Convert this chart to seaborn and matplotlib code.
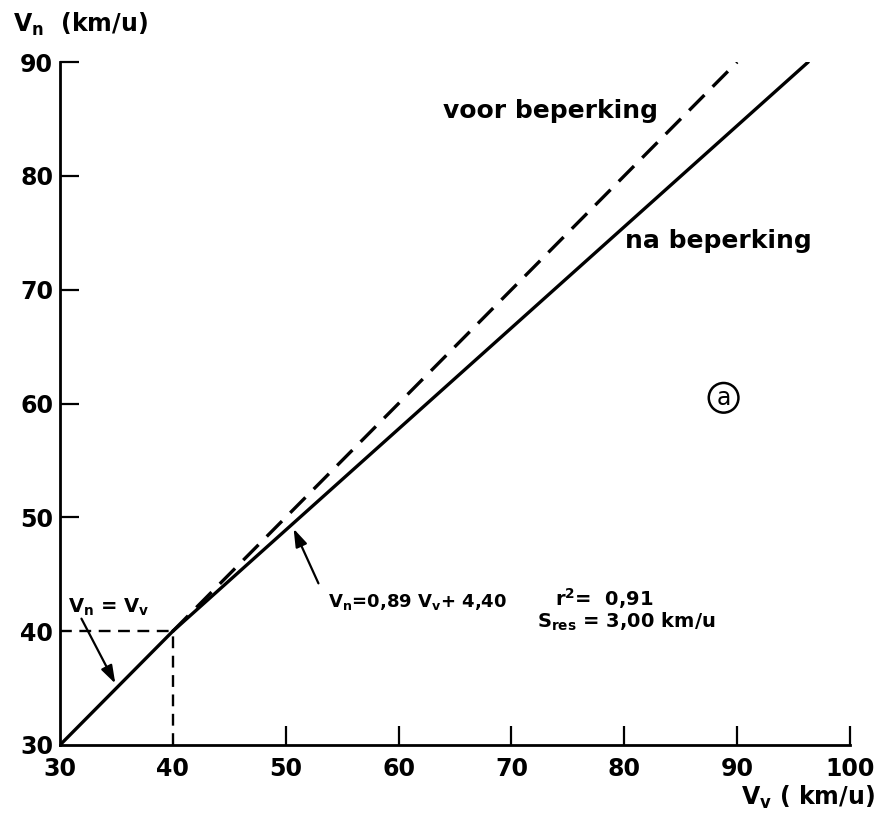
import matplotlib
matplotlib.use("Agg")
import matplotlib.pyplot as plt
import seaborn as sns

# --- data ---
x_identity = [30, 40]          # V_n = V_v segment (solid)
y_identity = [30, 40]
x_after = [40, 96.3]           # "na beperking" regression line (solid)
y_after = [40, 90]
x_before = [40, 90]            # "voor beperking" (dashed)
y_before = [40, 90]
x_guide_h = [30, 40]           # dashed guide at V_n = 40
y_guide_h = [40, 40]
x_guide_v = [40, 40]           # dashed guide at V_v = 40
y_guide_v = [30, 40]
x_ticks = [30, 40, 50, 60, 70, 80, 90, 100]
y_ticks = [30, 40, 50, 60, 70, 80, 90]

sns.set_theme(style="white")
plt.rcParams['font.family'] = ['DejaVu Sans']
plt.rcParams['text.color'] = 'black'
plt.rcParams['mathtext.default'] = 'regular'

fig = plt.figure(figsize=(8.8, 8.16), dpi=100)
ax = fig.add_axes([60/880, 71/816, 790/880, 683/816])

lw = 2.4
common = dict(ax=ax, color="black", estimator=None, sort=False)
sns.lineplot(x=x_identity, y=y_identity, lw=lw, solid_capstyle="round", **common)
sns.lineplot(x=x_after, y=y_after, lw=lw, solid_capstyle="round", **common)
sns.lineplot(x=x_before, y=y_before, lw=lw, linestyle=(0, (6.5, 3.5)), **common)
sns.lineplot(x=x_guide_h, y=y_guide_h, lw=1.7, linestyle=(0, (5, 3.2)), **common)
sns.lineplot(x=x_guide_v, y=y_guide_v, lw=1.7, linestyle=(0, (5, 3.2)), orient="y", **common)

ax.set_xlim(30, 100)
ax.set_ylim(30, 90)
ax.set_xticks(x_ticks)
ax.set_yticks(y_ticks)
ax.set_xticklabels([str(v) for v in x_ticks], fontweight="bold")
ax.set_yticklabels([str(v) for v in y_ticks], fontweight="bold")
for s in ["top", "right"]:
    ax.spines[s].set_visible(False)
for s in ["left", "bottom"]:
    ax.spines[s].set_color("black")
    ax.spines[s].set_linewidth(2.0)
ax.tick_params(axis="both", direction="in", length=14, width=1.6, colors="black",
               labelsize=17, pad=5, bottom=True, left=True)
ax.tick_params(axis="x", pad=9)
ax.set_xlabel("")
ax.set_ylabel("")
# no tick marks at 30 and 40 (corner and dashed guides there)
for t in ax.xaxis.get_major_ticks()[:2] + ax.yaxis.get_major_ticks()[:2]:
    t.tick1line.set_visible(False)

tk = dict(fontsize=17, color="black", fontweight="bold")
fig.text(13/880, 1 - 24/816, "V$_n$  (km/u)", ha="left", va="center", **tk)
fig.text(875/880, 1 - 797/816, "V$_v$ ( km/u)", ha="right", va="center", **tk)

bt = dict(color="black", fontweight="bold", ha="left", va="center")
ax.text(63.9, 85.7, "voor beperking", fontsize=18, **bt)
ax.text(80.1, 74.3, "na beperking", fontsize=18, **bt)

# circled "a"
ax.text(88.8, 60.5, "a", ha="center", va="center", fontsize=17, color="black",
        bbox=dict(boxstyle="circle,pad=0.12", fc="none", ec="black", lw=1.8))

ax.text(53.75, 42.6, "V$_n$=0,89 V$_v$+ 4,40", fontsize=13, **bt)
ax.text(73.9, 42.9, "r$^2$=  0,91", fontsize=14, **bt)
ax.text(72.3, 40.8, "S$_{res}$ = 3,00 km/u", fontsize=14, **bt)
ax.text(30.7, 42.1, "V$_n$ = V$_v$", fontsize=14, **bt)

arrow = dict(arrowstyle="-|>,head_length=0.9,head_width=0.3", color="black", lw=1.6,
             shrinkA=0, shrinkB=0)
ax.annotate("", xy=(34.9, 35.4), xytext=(31.9, 41.1), arrowprops=arrow)
ax.annotate("", xy=(50.7, 49.0), xytext=(52.9, 44.2), arrowprops=arrow)

fig.savefig("out.png", dpi=100)
